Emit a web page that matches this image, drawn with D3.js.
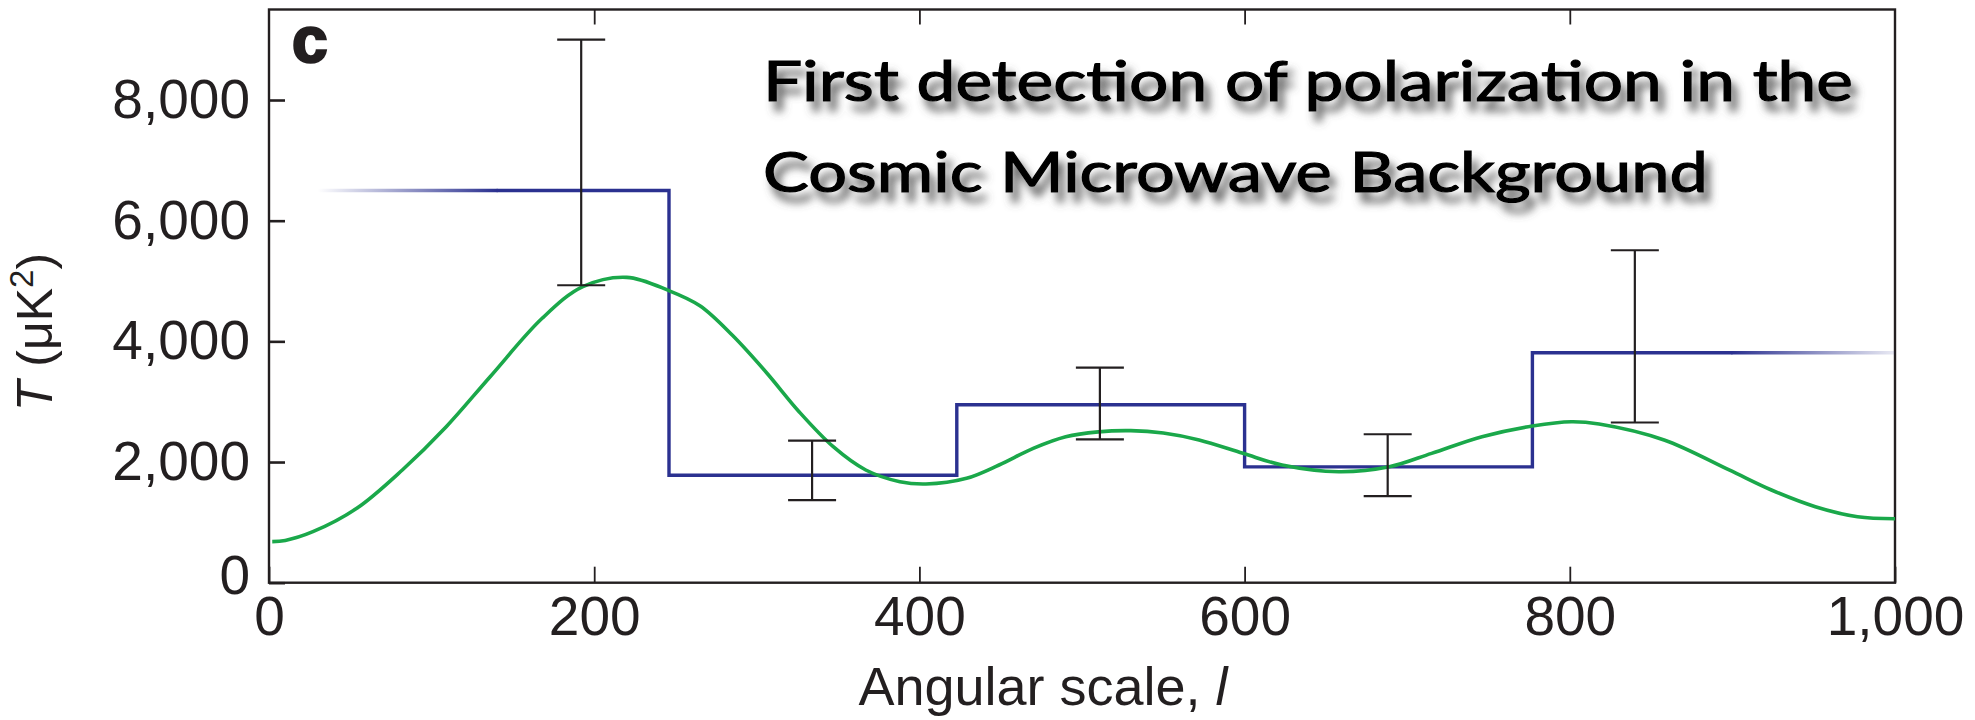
<!DOCTYPE html>
<html>
<head>
<meta charset="utf-8">
<script src="https://cdn.jsdelivr.net/npm/d3@7"></script>
<style>
  body { margin: 0; background: #fff; }
  svg { display: block; }
</style>
</head>
<body>
<div id="chart-container"></div>
<script>
// Binned measurement (step line), edges in l and T values per bin
const stepEdges = [140, 246, 423, 600, 777, 900];
const stepValues = [6500, 1780, 2950, 1920, 3810];
// Faded tails of the first and last bin
const fadeLeft = [30, 140];
const fadeRight = [900, 1000];

// Error bars
const errorL = [192, 334, 511, 688, 840];
const errorHigh = [9000, 2355, 3565, 2460, 5510];
const errorLow = [4930, 1370, 2375, 1435, 2655];

// Model curve (green)
const modelL = [2, 10, 27, 54, 82, 109, 136, 168, 193, 220, 246, 265, 285, 306, 326, 347, 367, 388, 404, 429,
    449, 470, 490, 510, 530, 550, 572, 599, 623, 658, 689, 715, 746, 777, 801, 818, 858, 898, 924, 951, 977, 1000];
const modelT = [680, 700, 845, 1233, 1868, 2585, 3414, 4382, 4906, 5061, 4840, 4590, 4100, 3480, 2834, 2254, 1868, 1674, 1636, 1730,
    1951, 2227, 2420, 2500, 2520, 2480, 2365, 2144, 1951, 1840, 1922, 2144, 2420, 2597, 2668, 2630, 2365, 1868, 1536, 1260, 1094, 1060];

// Ticks and text
const xTicks = [0, 200, 400, 600, 800, 1000];
const xInnerTicks = [200, 400, 600, 800];
const yTicks = [0, 2000, 4000, 6000, 8000];
const titleLines = ["First detection of polarization in the", "Cosmic Microwave Background"];

// Setting up the svg
const width = 1975;
const height = 720;
const plot = { left: 269, right: 1895, top: 9.5, bottom: 582.7 };

const ink = "#231f20";
const blue = "#2b3190";
const green = "#1aa84a";
const labelFont = "'Liberation Sans', Arial, sans-serif";

const svg = d3.select("#chart-container").append("svg")
    .attr("width", width)
    .attr("height", height);

svg.append("rect")
    .attr("width", width)
    .attr("height", height)
    .attr("fill", "#fff");

// Scales
const xScale = d3.scaleLinear()
    .domain([0, 1000])
    .range([plot.left, plot.right]);

const yScale = d3.scaleLinear()
    .domain([0, 9500])
    .range([plot.bottom, plot.top]);

// Defs: fades for the tails and the title shadow
const defs = svg.append("defs");

const gradLeft = defs.append("linearGradient")
    .attr("id", "fade-left")
    .attr("gradientUnits", "userSpaceOnUse")
    .attr("x1", xScale(fadeLeft[0])).attr("x2", xScale(fadeLeft[1]))
    .attr("y1", 0).attr("y2", 0);
gradLeft.append("stop").attr("offset", 0).attr("stop-color", blue).attr("stop-opacity", 0);
gradLeft.append("stop").attr("offset", 1).attr("stop-color", blue).attr("stop-opacity", 1);

const gradRight = defs.append("linearGradient")
    .attr("id", "fade-right")
    .attr("gradientUnits", "userSpaceOnUse")
    .attr("x1", xScale(fadeRight[0])).attr("x2", xScale(fadeRight[1]))
    .attr("y1", 0).attr("y2", 0);
gradRight.append("stop").attr("offset", 0).attr("stop-color", blue).attr("stop-opacity", 1);
gradRight.append("stop").attr("offset", 1).attr("stop-color", blue).attr("stop-opacity", 0.1);

defs.append("filter")
    .attr("id", "title-shadow")
    .attr("x", "-5%").attr("y", "-40%")
    .attr("width", "115%").attr("height", "200%")
    .append("feDropShadow")
    .attr("dx", 6)
    .attr("dy", 10)
    .attr("stdDeviation", 4)
    .attr("flood-color", "#555")
    .attr("flood-opacity", 0.9);

// Axes (ticks pointing inward)
const yAxis = d3.axisLeft(yScale)
    .tickValues(yTicks)
    .tickSize(-16)
    .tickPadding(19)
    .tickFormat(d3.format(","));

const xAxis = d3.axisBottom(xScale)
    .tickValues(xTicks)
    .tickSize(-16)
    .tickPadding(13)
    .tickFormat(d3.format(","));

const xAxisTop = d3.axisTop(xScale)
    .tickValues(xInnerTicks)
    .tickSize(-15)
    .tickFormat("");

const gy = svg.append("g")
    .attr("transform", `translate(${plot.left},0)`)
    .call(yAxis);

const gx = svg.append("g")
    .attr("transform", `translate(0,${plot.bottom})`)
    .call(xAxis);

const gxTop = svg.append("g")
    .attr("transform", `translate(0,${plot.top})`)
    .call(xAxisTop);

[gy, gx, gxTop].forEach(g => {
    g.select(".domain").remove();
    g.selectAll("line").attr("stroke", ink);
    g.selectAll("text")
        .attr("fill", ink)
        .style("font-family", labelFont)
        .style("font-size", "55px");
});
gy.selectAll("line").attr("stroke-width", 2.6);
gx.selectAll("line").attr("stroke-width", 1.8);
gxTop.selectAll("line").attr("stroke-width", 1.8);
// the zero label sits a little above the axis line
gy.selectAll(".tick").filter(d => d === 0).select("text").attr("dy", "0.2em");

// Frame
svg.append("rect")
    .attr("x", plot.left)
    .attr("y", plot.top)
    .attr("width", plot.right - plot.left)
    .attr("height", plot.bottom - plot.top)
    .attr("fill", "none")
    .attr("stroke", ink)
    .attr("stroke-width", 2.4);

// Step line for the bins
const stepPoints = stepEdges.map((l, i) => [l, stepValues[Math.min(i, stepValues.length - 1)]]);

const stepLine = d3.line()
    .x(d => xScale(d[0]))
    .y(d => yScale(d[1]))
    .curve(d3.curveStepAfter);

svg.append("path")
    .datum(stepPoints)
    .attr("fill", "none")
    .attr("stroke", blue)
    .attr("stroke-width", 3.4)
    .attr("d", stepLine);

// Faded tails
svg.append("line")
    .attr("x1", xScale(fadeLeft[0])).attr("x2", xScale(fadeLeft[1]) + 1)
    .attr("y1", yScale(stepValues[0])).attr("y2", yScale(stepValues[0]))
    .attr("stroke", "url(#fade-left)")
    .attr("stroke-width", 3.4);

svg.append("line")
    .attr("x1", xScale(fadeRight[0]) - 1).attr("x2", xScale(fadeRight[1]))
    .attr("y1", yScale(stepValues[stepValues.length - 1])).attr("y2", yScale(stepValues[stepValues.length - 1]))
    .attr("stroke", "url(#fade-right)")
    .attr("stroke-width", 3.4);

// Model curve
const modelLine = d3.line()
    .x((d, i) => xScale(modelL[i]))
    .y(d => yScale(d))
    .curve(d3.curveCatmullRom.alpha(0.5));

svg.append("path")
    .datum(modelT)
    .attr("fill", "none")
    .attr("stroke", green)
    .attr("stroke-width", 3.6)
    .attr("d", modelLine);

// Error bars
const capHalf = 24;
const bars = svg.append("g")
    .attr("stroke", ink)
    .attr("stroke-width", 2.2);

errorL.forEach((l, i) => {
    const cx = xScale(l);
    bars.append("line")
        .attr("x1", cx).attr("x2", cx)
        .attr("y1", yScale(errorHigh[i])).attr("y2", yScale(errorLow[i]));
    [errorHigh[i], errorLow[i]].forEach(v => {
        bars.append("line")
            .attr("x1", cx - capHalf).attr("x2", cx + capHalf)
            .attr("y1", yScale(v)).attr("y2", yScale(v));
    });
});

// Panel label
svg.append("text")
    .attr("x", 292)
    .attr("y", 62)
    .attr("fill", ink)
    .attr("stroke", ink)
    .attr("stroke-width", 2.5)
    .style("font-family", labelFont)
    .style("font-weight", "bold")
    .style("font-size", "64px")
    .text("c");

// Title with shadow
const titleWidths = [1090, 945];
const titleBase = [101, 192];
titleLines.forEach((t, i) => {
    svg.append("text")
        .attr("x", 763)
        .attr("y", titleBase[i])
        .attr("textLength", titleWidths[i])
        .attr("lengthAdjust", "spacingAndGlyphs")
        .attr("fill", "#000")
        .attr("stroke", "#000")
        .attr("stroke-width", 1.2)
        .attr("filter", "url(#title-shadow)")
        .style("font-family", "Lato, 'DejaVu Sans', sans-serif")
        .style("font-weight", "normal")
        .style("font-size", "57px")
        .text(t);
});

// Axis titles
const xTitle = svg.append("text")
    .attr("x", 1043)
    .attr("y", 705)
    .attr("text-anchor", "middle")
    .attr("fill", ink)
    .style("font-family", labelFont)
    .style("font-size", "54px");
xTitle.append("tspan").text("Angular scale, ");
xTitle.append("tspan").style("font-style", "italic").text("l");

const yTitle = svg.append("text")
    .attr("transform", "translate(52,332) rotate(-90)")
    .attr("text-anchor", "middle")
    .attr("fill", ink)
    .style("font-family", labelFont)
    .style("font-size", "50px");
yTitle.append("tspan").style("font-style", "italic").text("T");
yTitle.append("tspan").text(" (μK");
yTitle.append("tspan").attr("dy", -19).style("font-size", "33px").text("2");
yTitle.append("tspan").attr("dy", 19).text(")");
</script>
</body>
</html>
